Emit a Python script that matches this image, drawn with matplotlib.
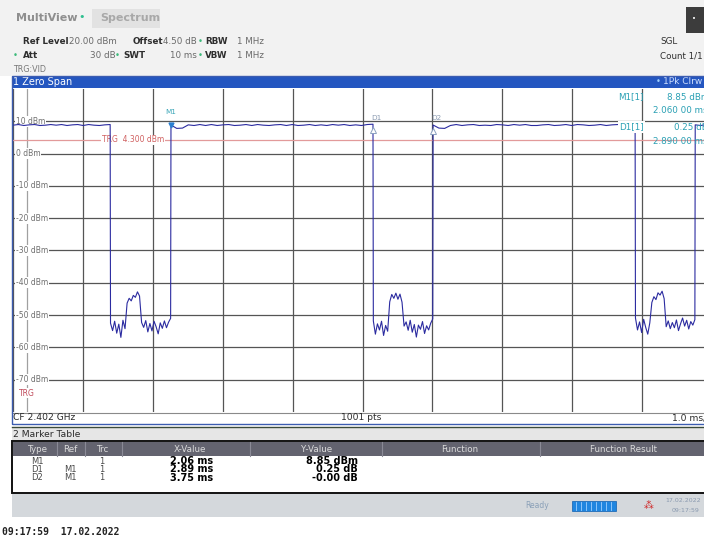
import numpy as np
import matplotlib
matplotlib.use("Agg")
import matplotlib.pyplot as plt
from matplotlib.patches import Rectangle
from matplotlib.transforms import offset_copy

plt.rcParams['font.family'] = ['DejaVu Sans']

# ---------------- data ----------------
x_start_ms, x_stop_ms = -0.2, 9.8
ref_level_dbm, bottom_dbm = 20, -80
y_ticks = [10, 0, -10, -20, -30, -40, -50, -60, -70]
y_tick_labels = ['10 dBm', '0 dBm', '-10 dBm', '-20 dBm', '-30 dBm',
                 '-40 dBm', '-50 dBm', '-60 dBm', '-70 dBm']
trg_level_dbm = 4.3

# pulse edges (ms): falling, rising, falling, rising, falling, rising
edges_ms = [1.19, 2.06, 4.95, 5.81, 8.70, 9.56]

high_seg0 = [8.8, 9.0, 8.7, 8.9, 9.0, 8.7, 8.8, 9.0, 8.8, 9.0, 8.7, 8.9,
             9.0, 8.7, 9.0, 8.8, 8.7, 8.9, 9.0]
high_seg1 = [8.85, 7.8, 7.9, 8.9, 8.7, 9.0, 8.7, 9.0, 8.7, 8.9, 9.0, 8.7,
             8.8, 9.0, 8.7, 9.0, 8.8, 8.7, 8.9, 9.0, 8.7, 9.0, 8.7, 8.8,
             9.0, 8.7, 8.9, 8.7, 9.0, 8.8, 9.0, 8.7, 8.9, 8.7, 9.0, 9.1]
high_seg2 = [8.85, 7.9, 7.8, 8.7, 9.0, 8.7, 8.9, 9.0, 8.7, 8.8, 8.7, 9.0,
             8.9, 8.7, 9.0, 8.8, 9.0, 8.7, 8.7, 8.9, 9.0, 8.7, 8.8, 9.0,
             8.7, 9.0, 8.9, 8.7, 8.8, 9.0, 8.7, 8.9, 9.0, 8.7, 8.8, 8.9]
high_seg3 = [8.9, 8.7, 9.0, 8.8]

low_seg0 = [-52.5, -54.8, -51.9, -55.6, -52.8, -56.9, -51.6, -54.2,
            -46.3, -44.8, -45.6, -43.9, -44.5, -42.8, -44.1,
            -52.3, -53.8, -51.7, -55.2, -52.6, -54.9, -51.9, -53.6, -55.8,
            -52.4, -54.1, -51.8, -53.9, -52.2, -51.0]
low_seg1 = [-51.8, -55.9, -52.7, -54.6, -51.9, -56.3, -53.2, -55.0,
            -45.9, -43.6, -44.8, -43.2, -45.1, -43.5, -46.0,
            -53.4, -52.1, -54.7, -51.6, -55.3, -52.9, -56.8, -53.1, -54.4,
            -52.0, -55.7, -53.3, -54.6, -52.5, -51.2]
low_seg2 = [-50.9, -54.6, -52.1, -55.4, -51.3, -53.8, -55.9, -52.4,
            -46.1, -44.3, -45.2, -43.1, -43.8, -42.6, -44.9,
            -53.6, -51.8, -54.2, -52.3, -53.9, -51.5, -54.8, -52.7, -50.9,
            -53.4, -51.6, -54.3, -52.0, -53.1, -51.4]

m1_ms, m1_dbm = 2.06, 8.85
d1_ms, d1_db = 2.89, 0.25
d2_ms, d2_db = 3.75, 0.00

table_cols = ['Type', 'Ref', 'Trc', 'X-Value', 'Y-Value', 'Function', 'Function Result']
types = ['M1', 'D1', 'D2']
refs = ['', 'M1', 'M1']
trcs = ['1', '1', '1']
x_values = ['2.06 ms', '2.89 ms', '3.75 ms']
y_values = ['8.85 dBm', '0.25 dB', '-0.00 dB']

# ---------------- figure ----------------
W, H = 704, 540
fig = plt.figure(figsize=(W / 100, H / 100), dpi=100)
fig.patch.set_facecolor('white')


def fx(x):
    return x / W


def fy(y):
    return 1 - y / H


def rect(x0, y0, x1, y1, **kw):
    fig.patches.append(Rectangle((fx(x0), fy(y1)), (x1 - x0) / W, (y1 - y0) / H,
                                 transform=fig.transFigure, **kw))


def txt(x, y, s, **kw):
    kw.setdefault('va', 'center')
    kw.setdefault('fontsize', 6.3)
    return fig.text(fx(x), fy(y), s, **kw)


# header background
rect(0, 0, 704, 76, facecolor='#f2f2f2', edgecolor='none', zorder=0)
rect(92, 9, 160, 28, facecolor='#e2e2e2', edgecolor='none', zorder=1)
rect(686, 7, 704, 33, facecolor='#3c3c3c', edgecolor='none', zorder=1)
txt(694, 19, '•', color='white', fontsize=5, ha='center')
txt(16, 18, 'MultiView', color='#8f8f8f', fontsize=8, fontweight='bold')
txt(82, 17, '•', color='#30c090', fontsize=8, ha='center')
txt(100, 18, 'Spectrum', color='#a8a8a8', fontsize=8, fontweight='bold')

dark = '#2e2e2e'
grey = '#6a6a6a'
green = '#3cba7a'
txt(23, 42, 'Ref Level', color=dark, fontweight='bold')
txt(69, 42, '20.00 dBm', color=grey)
txt(133, 42, 'Offset', color=dark, fontweight='bold')
txt(163, 42, '4.50 dB', color=grey)
txt(200, 42, '•', color=green, ha='center')
txt(205, 42, 'RBW', color=dark, fontweight='bold')
txt(237, 42, '1 MHz', color=grey)
txt(15, 56, '•', color=green, ha='center')
txt(23, 56, 'Att', color=dark, fontweight='bold')
txt(90, 56, '30 dB', color=grey)
txt(117, 56, '•', color=green, ha='center')
txt(123, 56, 'SWT', color=dark, fontweight='bold')
txt(170, 56, '10 ms', color=grey)
txt(200, 56, '•', color=green, ha='center')
txt(205, 56, 'VBW', color=dark, fontweight='bold')
txt(237, 56, '1 MHz', color=grey)
txt(13, 69, 'TRG:VID', color='#777777', fontsize=5.8)
txt(660, 42, 'SGL', color=dark)
txt(660, 56, 'Count 1/1', color=dark)

# window title bar
rect(12, 76, 712, 88, facecolor='#2456c0', edgecolor='none', zorder=1)
txt(13, 82, '1 Zero Span', color='white', fontsize=7)
txt(658, 82, '•', color='#9fd0ff', fontsize=6, ha='center')
txt(663, 82, '1Pk Clrw', color='#cfe0ff', fontsize=6.5)

# ---------------- plot axes ----------------
ax = fig.add_axes([13 / W, 1 - 412 / H, 699 / W, 323 / H])
ax.set_xlim(x_start_ms, x_stop_ms)
ax.set_ylim(bottom_dbm, ref_level_dbm)
ax.set_xticks(np.arange(x_start_ms, x_stop_ms + 0.01, 1.0))
ax.set_yticks(y_ticks)
ax.tick_params(length=0, labelbottom=False, labelleft=False)
ax.grid(True, color='#555555', linewidth=0.9)
ax.set_axisbelow(True)
for s in ax.spines.values():
    s.set_visible(False)

for yv, lab in zip(y_ticks, y_tick_labels):
    ax.text(x_start_ms + 0.04, yv, lab, fontsize=5.5, color='#6f6f6f', va='center', ha='left',
            zorder=1.5, bbox=dict(facecolor='white', edgecolor='none', pad=0.6))

# trigger position and level
ax.axvline(0, color='#a0a0a0', linewidth=0.9, zorder=1)
ax.text(0.0, -74.2, 'TRG', fontsize=5.5, color='#c04a5a', ha='center', va='center',
        zorder=1.6, bbox=dict(facecolor='white', edgecolor='none', pad=0.4))
ax.axhline(trg_level_dbm, color='#e29a9a', linewidth=0.9, zorder=1.2)
ax.text(1.52, trg_level_dbm, 'TRG  4.300 dBm', fontsize=5.5, color='#d06060', ha='center',
        va='center', zorder=1.6, bbox=dict(facecolor='white', edgecolor='none', pad=0.5))

# trace
highs = [high_seg0, high_seg1, high_seg2, high_seg3]
lows = [low_seg0, low_seg1, low_seg2]
bounds = [x_start_ms] + edges_ms + [x_stop_ms]
tt, vv = [], []
for i in range(4):
    h0, h1 = bounds[2 * i], bounds[2 * i + 1]
    tt += list(np.linspace(h0, h1, len(highs[i])))
    vv += highs[i]
    if i < 3:
        l0, l1 = bounds[2 * i + 1], bounds[2 * i + 2]
        tt += list(np.linspace(l0 + 0.005, l1 - 0.005, len(lows[i])))
        vv += lows[i]
ax.plot(tt, vv, color='#2b2ba0', linewidth=0.8, zorder=3)

# markers
ax.plot([m1_ms], [m1_dbm], marker='v', markersize=3.5, color='#2a7fd0', zorder=4)
ax.text(m1_ms, m1_dbm + 4.0, 'M1', fontsize=5.2, color='#3aa6b8', ha='center', va='center', zorder=4)
tr_down = offset_copy(ax.transData, fig=fig, x=0, y=-4.5, units='points')
for name, dx, dv in [('D1', d1_ms, d1_db), ('D2', d2_ms, d2_db)]:
    mx = m1_ms + dx
    ax.plot([mx], [m1_dbm + dv], marker='^', markersize=4, mfc='white', mec='#8aa0c0',
            mew=0.7, transform=tr_down, zorder=4)
    ax.text(mx + 0.05, m1_dbm + 2.2, name, fontsize=5.2, color='#8a9ab0', ha='center',
            va='center', zorder=4)

# marker info (upper right, cut by the screenshot edge as in the original)
teal = '#2aa0b4'
txt(618, 97, 'M1[1]', color=teal, fontsize=6.3, zorder=5)
txt(667, 97, '8.85 dBm', color=teal, fontsize=6.3, zorder=5)
txt(653, 111, '2.060 00 ms', color=teal, fontsize=6.3, zorder=5)
txt(619, 127, 'D1[1]', color=teal, fontsize=6.3, zorder=5,
    bbox=dict(facecolor='white', edgecolor='none', pad=0.8))
txt(674, 127, '0.25 dB', color=teal, fontsize=6.3, zorder=5)
txt(653, 141, '2.890 00 ms', color=teal, fontsize=6.3, zorder=5)

# bottom info row of window
rect(12, 412, 712, 423, facecolor='white', edgecolor='none', zorder=1)
fig.lines.append(plt.Line2D([fx(12), fx(712)], [fy(412.5), fy(412.5)], transform=fig.transFigure,
                            color='#8a8a8a', linewidth=0.8, zorder=2))
txt(13, 418, 'CF 2.402 GHz', color='#2a2a2a', fontsize=6.6)
txt(361, 418, '1001 pts', color='#2a2a2a', fontsize=6.6, ha='center')
txt(672, 418, '1.0 ms/', color='#2a2a2a', fontsize=6.6)
# window frame
rect(12, 76, 712, 424, facecolor='none', edgecolor='#3c5cb0', linewidth=1.0, zorder=6)
fig.lines.append(plt.Line2D([fx(12), fx(712)], [fy(427), fy(427)], transform=fig.transFigure,
                            color='#3a4a3a', linewidth=1.0, zorder=6))

# marker table window
rect(12, 428, 712, 441, facecolor='#e6e6e6', edgecolor='none', zorder=1)
txt(13, 434.5, '2 Marker Table', color='#2a2a2a', fontsize=6.6)
rect(12, 441, 712, 493, facecolor='white', edgecolor='#111111', linewidth=1.4, zorder=2)
rect(13, 442, 712, 456, facecolor='#63636f', edgecolor='none', zorder=3)
for sx in [57, 85, 122, 250, 382, 540]:
    fig.lines.append(plt.Line2D([fx(sx), fx(sx)], [fy(442), fy(456)], transform=fig.transFigure,
                                color='#8a8a96', linewidth=0.8, zorder=4))
col_x = [37, 70, 102, 190, 317, 460, 623]
for cx, c in zip(col_x, table_cols):
    txt(cx, 449, c, color='#dcdcdc', fontsize=6.3, ha='center', zorder=5)
row_y = [461, 469.5, 478]
for ry, tp, rf, tc, xv, yv in zip(row_y, types, refs, trcs, x_values, y_values):
    txt(37, ry, tp, color='#4a4a4a', fontsize=6, ha='center', zorder=5)
    txt(70, ry, rf, color='#4a4a4a', fontsize=6, ha='center', zorder=5)
    txt(102, ry, tc, color='#4a4a4a', fontsize=6, ha='center', zorder=5)
    txt(213, ry, xv, color='black', fontsize=7, fontweight='bold', ha='right', zorder=5)
    txt(358, ry, yv, color='black', fontsize=7, fontweight='bold', ha='right', zorder=5)

# status bar
rect(12, 494, 704, 517, facecolor='#d4d8dc', edgecolor='none', zorder=1)
txt(537, 506, 'Ready', color='#8aa0b8', fontsize=5.5, ha='center')
rect(572, 501, 616, 511, facecolor='#1f86e0', edgecolor='#1060b0', linewidth=0.5, zorder=2)
for bx in range(576, 614, 5):
    fig.lines.append(plt.Line2D([fx(bx), fx(bx)], [fy(502), fy(510)], transform=fig.transFigure,
                                color='#9fd0ff', linewidth=0.6, zorder=3))
txt(649, 506, '⁂', color='#d02020', fontsize=7, ha='center')
txt(665, 501, '17.02.2022', color='#8a9ab0', fontsize=4.5)
txt(672, 511, '09:17:59', color='#8a9ab0', fontsize=4.5)

# timestamp
fig.text(fx(2), fy(532), '09:17:59  17.02.2022', fontsize=7, fontweight='bold',
         family='DejaVu Sans Mono', color='#222222', va='center')

fig.savefig('out.png', dpi=100)
